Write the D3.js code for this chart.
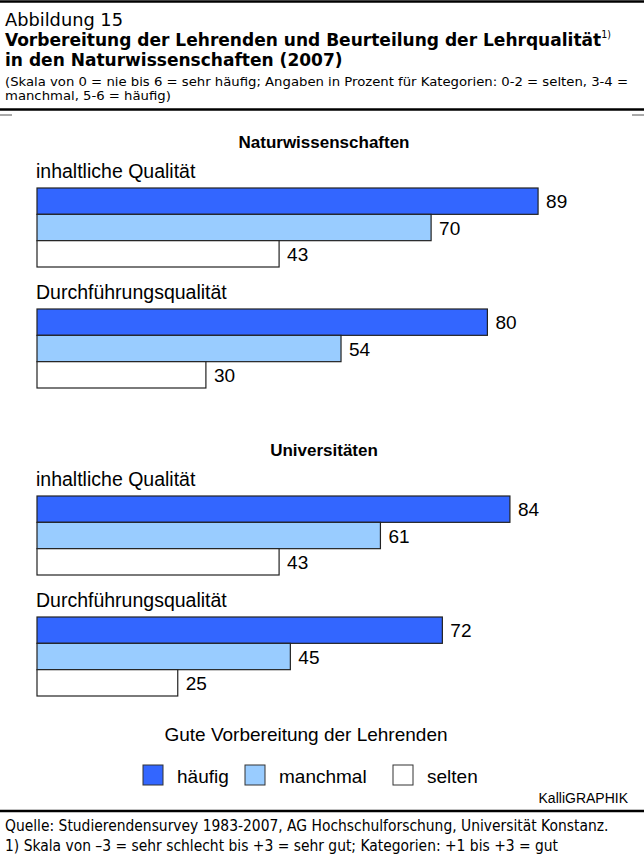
<!DOCTYPE html>
<html>
<head>
<meta charset="utf-8">
<script src="https://cdn.jsdelivr.net/npm/d3@7/dist/d3.min.js"></script>
<style>
  body { margin: 0; background: #fff; }
  .narrow { font-family: "Liberation Sans Narrow", "DejaVu Sans Condensed", "Open Sans", sans-serif; fill: #000; }
  .chart { font-family: "Liberation Sans", Arial, sans-serif; fill: #000; }
</style>
</head>
<body>
<script>
'use strict';

var sections = ['Naturwissenschaften', 'Universitäten'];
var aspects = ['inhaltliche Qualität', 'Durchführungsqualität'];
var series = ['häufig', 'manchmal', 'selten'];
var naturValues = [[89, 70, 43], [80, 54, 30]];
var uniValues = [[84, 61, 43], [72, 45, 25]];
var legendTitle = 'Gute Vorbereitung der Lehrenden';
var colors = ['#3366ff', '#99ccff', '#ffffff'];

var W = 644, H = 859;
var svg = d3.select('body').append('svg').attr('width', W).attr('height', H);

// frame lines
function hline(y, x1, x2, w, c) {
  svg.append('line').attr('x1', x1).attr('x2', x2).attr('y1', y).attr('y2', y)
    .attr('stroke', c || '#000').attr('stroke-width', w);
}
hline(1.5, 0, W, 2.5);
hline(109.5, 0, W, 2.5);
hline(115, 0, 12, 1, '#555');
hline(115, 632, W, 1, '#555');
hline(811, 0, W, 2.5);

// squeeze a block of text lines so that its reference line has the target width
function fit(g, ref, target) {
  var w = ref.node().getComputedTextLength();
  g.attr('transform', 'translate(5,0) scale(' + (target / w) + ',1)');
}

var gA = svg.append('g').attr('class', 'narrow');
var tA = gA.append('text').attr('y', 26).attr('font-size', 18).text('Abbildung 15');
fit(gA, tA, 118);

var gT = svg.append('g').attr('class', 'narrow').attr('font-weight', 'bold').attr('font-size', 18);
var t1 = gT.append('text').attr('y', 46);
t1.append('tspan').text('Vorbereitung der Lehrenden und Beurteilung der Lehrqualität');
t1.append('tspan').attr('font-size', 10).attr('font-weight', 'normal').attr('dy', -8).text('1)');
gT.append('text').attr('y', 66).text('in den Naturwissenschaften (2007)');
fit(gT, t1, 606);

var gS = svg.append('g').attr('class', 'narrow').attr('font-size', 12);
var s1 = gS.append('text').attr('y', 86)
  .text('(Skala von 0 = nie bis 6 = sehr häufig; Angaben in Prozent für Kategorien: 0-2 = selten, 3-4 =');
gS.append('text').attr('y', 100).text('manchmal, 5-6 = häufig)');
fit(gS, s1, 624);

var gF = svg.append('g').attr('class', 'narrow').attr('font-size', 16);
var f1 = gF.append('text').attr('y', 831)
  .text('Quelle: Studierendensurvey 1983-2007, AG Hochschulforschung, Universität Konstanz.');
gF.append('text').attr('y', 851).text('1) Skala  von \u20133 = sehr schlecht bis +3 = sehr gut; Kategorien: +1 bis +3 = gut');
fit(gF, f1, 604);

// chart
var x = d3.scaleLinear().domain([0, 100]).range([37, 600]);
var band = d3.scaleBand().domain(series).range([0, 79]);
var sectionY = d3.scaleOrdinal().domain(sections).range([148, 456]);
var groupY = d3.scaleOrdinal().domain(aspects).range([40, 161]);

var chart = svg.append('g').attr('class', 'chart');

sections.forEach(function(sec, si) {
  var values = si === 0 ? naturValues : uniValues;
  var top = sectionY(sec);
  chart.append('text').attr('x', 324).attr('y', top)
    .attr('text-anchor', 'middle').attr('font-size', 17).attr('font-weight', 'bold').text(sec);

  aspects.forEach(function(asp, ai) {
    var gy = top + groupY(asp);
    chart.append('text').attr('x', 36).attr('y', gy - 10).attr('font-size', 19.5).text(asp);

    var g = chart.append('g').attr('transform', 'translate(0,' + gy + ')');
    var rows = values[ai].map(function(v, i) { return {key: series[i], value: v, color: colors[i]}; });

    g.selectAll('rect').data(rows).enter().append('rect')
      .attr('x', x(0))
      .attr('y', function(d) { return band(d.key); })
      .attr('width', function(d) { return x(d.value) - x(0); })
      .attr('height', band.bandwidth())
      .attr('fill', function(d) { return d.color; })
      .attr('stroke', '#222').attr('stroke-width', 1.2);

    g.selectAll('text.val').data(rows).enter().append('text').attr('class', 'val')
      .attr('x', function(d) { return x(d.value) + 8; })
      .attr('y', function(d) { return band(d.key) + band.bandwidth() / 2 + 7; })
      .attr('font-size', 19).text(function(d) { return d.value; });
  });
});

// legend
chart.append('text').attr('x', 306).attr('y', 741).attr('text-anchor', 'middle')
  .attr('font-size', 19).text(legendTitle);

var legendX = [143, 245, 393];
var lg = chart.selectAll('g.leg').data(series).enter().append('g').attr('class', 'leg')
  .attr('transform', function(d, i) { return 'translate(' + legendX[i] + ',765)'; });
lg.append('rect').attr('width', 20).attr('height', 20)
  .attr('fill', function(d, i) { return colors[i]; })
  .attr('stroke', '#333').attr('stroke-width', 1);
lg.append('text').attr('x', 34).attr('y', 18).attr('font-size', 19).text(function(d) { return d; });

chart.append('text').attr('x', 628).attr('y', 803).attr('text-anchor', 'end')
  .attr('font-size', 14).text('KalliGRAPHIK');
</script>
</body>
</html>
